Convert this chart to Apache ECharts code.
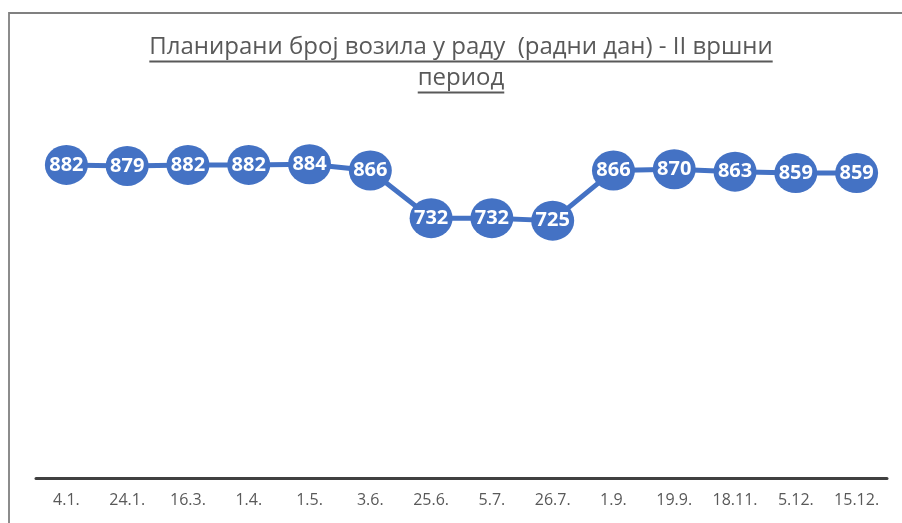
<!DOCTYPE html>
<html>
<head>
<meta charset="utf-8">
<script src="https://cdn.jsdelivr.net/npm/echarts@6/dist/echarts.min.js"></script>
<style>
  html, body { margin: 0; padding: 0; background: #fff; }
  #chart { width: 902px; height: 523px; }
</style>
</head>
<body>
<div id="chart"></div>
<script>
  // подаци са графикона
  var categories = ['4.1.', '24.1.', '16.3.', '1.4.', '1.5.', '3.6.', '25.6.', '5.7.', '26.7.', '1.9.', '19.9.', '18.11.', '5.12.', '15.12.'];
  var vehicles = [882, 879, 882, 882, 884, 866, 732, 732, 725, 866, 870, 863, 859, 859];
  var titleLines = ['Планирани број возила у раду  (радни дан) - II вршни', 'период'];

  var titleFont = '24px "Open Sans"';
  var ctx = document.createElement('canvas').getContext('2d');
  ctx.font = titleFont;

  // наслов са подвлаком
  var titleGraphics = [];
  var textTop = [35, 66];
  var lineY = [61.5, 92.5];
  titleLines.forEach(function (t, i) {
    var w = ctx.measureText(t).width;
    titleGraphics.push({
      type: 'text',
      left: 461 - w / 2,
      top: textTop[i],
      style: {
        text: t,
        font: titleFont,
        fill: '#595959'
      }
    });
    titleGraphics.push({
      type: 'line',
      shape: { x1: 461 - w / 2, y1: lineY[i], x2: 461 + w / 2, y2: lineY[i] },
      style: { stroke: '#595959', lineWidth: 1.8 }
    });
  });

  var myChart = echarts.init(document.getElementById('chart'));
  myChart.setOption({
    animation: false,
    graphic: [{
      type: 'rect',
      shape: { x: 9, y: 13, width: 1200, height: 1200 },
      style: { fill: 'none', stroke: '#808080', lineWidth: 1.8 },
      z: -1
    }].concat(titleGraphics),
    grid: {
      left: 36,
      right: 15,
      top: 123,
      bottom: 45
    },
    xAxis: {
      type: 'category',
      data: categories,
      boundaryGap: true,
      axisLine: {
        lineStyle: { color: '#404040', width: 3 }
      },
      axisTick: { show: false },
      axisLabel: {
        margin: 14,
        fontFamily: 'Open Sans',
        fontSize: 16,
        color: '#595959'
      }
    },
    yAxis: {
      type: 'value',
      min: 0,
      max: 1000,
      show: false,
      splitLine: { show: false }
    },
    series: [{
      name: 'возила',
      type: 'line',
      data: vehicles,
      symbol: 'circle',
      symbolSize: [43, 40],
      lineStyle: { color: '#4472C4', width: 5 },
      itemStyle: { color: '#4472C4' },
      label: {
        show: true,
        position: 'inside',
        color: '#fff',
        fontFamily: 'Open Sans',
        fontWeight: 'bold',
        fontSize: 20
      },
      emphasis: { disabled: true }
    }]
  });
</script>
</body>
</html>
